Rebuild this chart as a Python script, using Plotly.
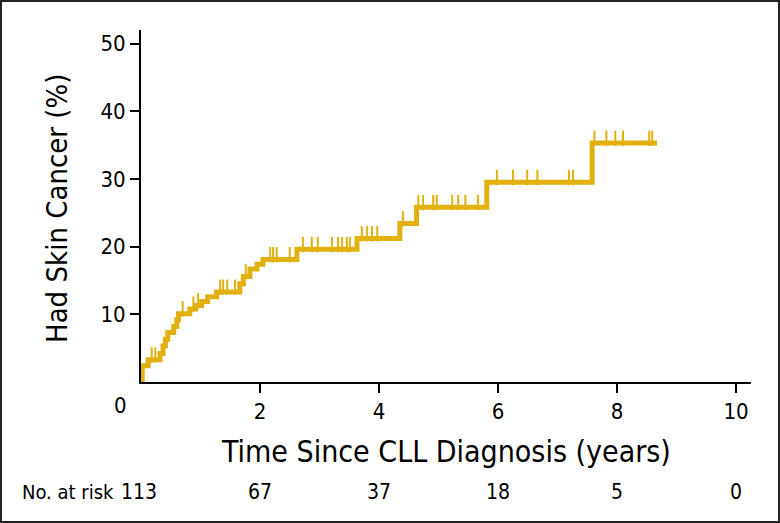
import plotly.graph_objects as go

# ---------------- data ----------------
event_times = [0.0, 0.02, 0.12, 0.32, 0.37, 0.41, 0.45, 0.55, 0.60, 0.63, 0.82, 0.92,
               1.02, 1.12, 1.27, 1.66, 1.72, 1.83, 1.95, 2.05, 2.62, 3.63, 4.35, 4.63,
               5.81, 7.58]
cum_incidence = [0.0, 2.4, 3.3, 4.2, 5.3, 6.3, 7.3, 8.2, 9.2, 10.1, 10.8, 11.3,
                 11.9, 12.6, 13.3, 14.5, 15.6, 16.7, 17.4, 18.1, 19.6, 21.2, 23.4, 25.8,
                 29.5, 35.3]
end_time = 8.67

censor_times = [0.18, 0.24, 0.70, 0.88, 0.96, 1.33, 1.38, 1.45, 1.58, 1.76, 2.17, 2.22,
                2.28, 2.50, 2.72, 2.87, 2.97, 3.21, 3.31, 3.38, 3.46, 3.51, 3.71, 3.80,
                3.88, 3.97, 4.40, 4.66, 4.74, 4.91, 4.97, 5.23, 5.33, 5.45, 5.66, 5.98,
                6.25, 6.49, 6.66, 7.19, 7.26, 7.62, 7.82, 7.97, 8.10, 8.54, 8.59]

x_ticks = [2, 4, 6, 8, 10]
y_ticks = [10, 20, 30, 40, 50]
risk_times = [0, 2, 4, 6, 8, 10]
risk_counts = [113, 67, 37, 18, 5, 0]

# ---------------- style ----------------
COLOR = "#E2B10F"
FONT = "DejaVu Sans Condensed, Liberation Sans Narrow, Roboto, sans-serif"
W, H = 780, 523
ML, MR, MT, MB = 141, 29, 30, 141
PW, PH = W - ML - MR, H - MT - MB
X_MAX = 10.25


def step_value(t):
    v = 0.0
    for et, ci in zip(event_times, cum_incidence):
        if et <= t:
            v = ci
    return v


line_x = event_times + [end_time]
line_y = cum_incidence + [cum_incidence[-1]]

censor_y = [step_value(t) + 0.7 for t in censor_times]

fig = go.Figure()
fig.add_trace(go.Scatter(x=line_x, y=line_y, mode="lines", line_shape="hv",
                         line=dict(color=COLOR, width=5), hoverinfo="skip"))
fig.add_trace(go.Scatter(x=censor_times, y=censor_y, mode="markers",
                         marker=dict(symbol="line-ns", size=11,
                                     line=dict(color=COLOR, width=2)),
                         hoverinfo="skip"))


def px_x(p):
    return (p - ML) / PW


def px_y(p):
    return (H - MB - p) / PH


def txt(x, y, text, size, **kw):
    d = dict(x=x, y=y, xref="paper", yref="paper", text=text, showarrow=False,
             xanchor="center", yanchor="middle",
             font=dict(size=size, color="black", family=FONT))
    d.update(kw)
    return d


annotations = []
# shared origin label
annotations.append(txt(px_x(120), px_y(405), "0", 22))
# axis titles
annotations.append(txt(px_x(446), px_y(451), "Time Since CLL Diagnosis (years)", 30))
annotations.append(txt(px_x(57), px_y(208), "Had Skin Cancer (%)", 29, textangle=-90))
# risk table
annotations.append(txt(px_x(20), px_y(492), "No. at risk", 20, xanchor="left"))
for t, n in zip(risk_times, risk_counts):
    xpix = ML + t / X_MAX * PW
    if t == 0:
        xpix = 139
    annotations.append(txt(px_x(xpix), px_y(492), str(n), 21))

fig.update_layout(
    width=W, height=H,
    margin=dict(l=ML, r=MR, t=MT, b=MB),
    paper_bgcolor="white", plot_bgcolor="white",
    showlegend=False,
    font=dict(family=FONT, color="black"),
    annotations=annotations,
    shapes=[dict(type="rect", xref="paper", yref="paper",
                 x0=px_x(1), x1=px_x(W - 1), y0=px_y(H - 1), y1=px_y(1),
                 line=dict(color="#222222", width=2))],
    xaxis=dict(range=[0, X_MAX], tickvals=x_ticks, ticktext=[str(v) for v in x_ticks],
               showgrid=False, zeroline=False, showline=True, linecolor="black",
               linewidth=2, ticks="outside", ticklen=9, tickwidth=2, tickcolor="black",
               tickfont=dict(size=22, family=FONT, color="black")),
    yaxis=dict(range=[0, 52], tickvals=y_ticks, ticktext=[str(v) for v in y_ticks],
               showgrid=False, zeroline=False, showline=True, linecolor="black",
               linewidth=2, ticks="outside", ticklen=9, tickwidth=2, tickcolor="black",
               tickfont=dict(size=22, family=FONT, color="black")),
)

fig.write_html("out.html", config={"displayModeBar": False},
               post_script="document.body.style.margin='0';")
